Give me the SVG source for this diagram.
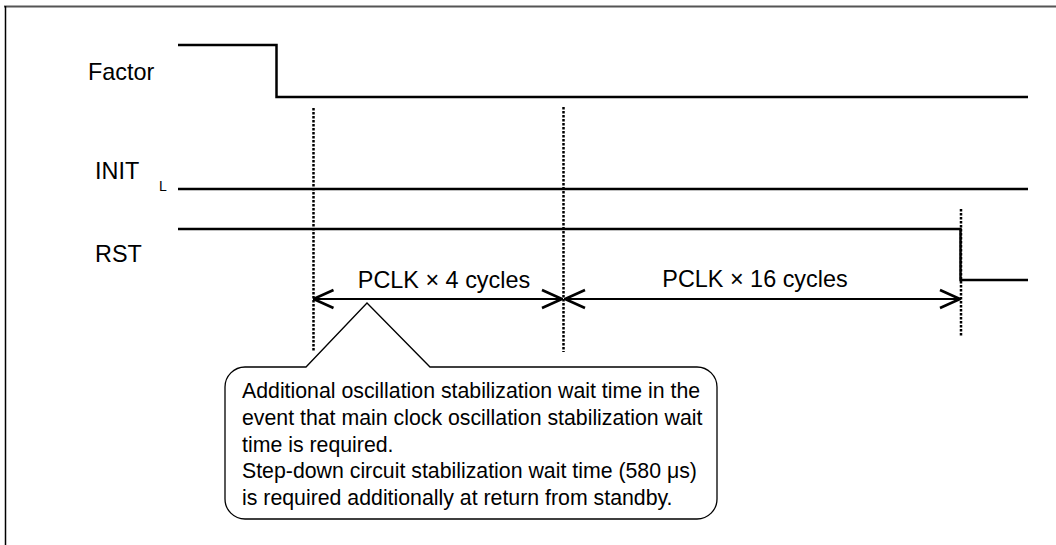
<svg xmlns="http://www.w3.org/2000/svg" width="1056" height="545" viewBox="0 0 1056 545">
<style>
.sig{fill:none;stroke:#000;stroke-width:2.5;stroke-linejoin:miter}
.dot{fill:none;stroke:#000;stroke-width:2.5;stroke-dasharray:2.5 1.5}
.lbl{font-family:"Liberation Sans",Arial,sans-serif;font-size:23.4px;fill:#000}
.sub{font-family:"Liberation Sans",Arial,sans-serif;font-size:14px;fill:#000}
.note{font-family:"Liberation Sans",Arial,sans-serif;font-size:21.3px;fill:#000}
.arr{fill:none;stroke:#000;stroke-width:2.2;marker-start:url(#chev);marker-end:url(#chev)}
</style>
<defs>
<marker id="chev" viewBox="0 0 22 22" refX="21" refY="11" markerWidth="22" markerHeight="22" markerUnits="userSpaceOnUse" orient="auto-start-reverse">
<path d="M1,2 L21,11 L1,20" fill="none" stroke="#000" stroke-width="2.6"/>
</marker>
</defs>
<rect width="1056" height="545" fill="#fff"/>
<g id="frame">
<line x1="4" y1="6.5" x2="1056" y2="6.5" stroke="#555" stroke-width="2"/>
<line x1="5.5" y1="6" x2="5.5" y2="545" stroke="#000" stroke-width="1.5"/>
</g>
<g id="factor">
<text class="lbl" x="88" y="80">Factor</text>
<path class="sig" d="M178,45 H276.5 V97 H1028"/>
</g>
<g id="init">
<text class="lbl" x="95" y="179">INIT</text>
<text class="sub" x="159" y="191">L</text>
<path class="sig" d="M178,189 H1028"/>
</g>
<g id="rst">
<text class="lbl" x="95" y="262">RST</text>
<path class="sig" d="M178,229 H960.5 V280 H1028"/>
</g>
<g id="guides">
<line class="dot" x1="313.5" y1="108" x2="313.5" y2="352"/>
<line class="dot" x1="563.5" y1="107" x2="563.5" y2="352"/>
<line class="dot" x1="961" y1="209" x2="961" y2="337"/>
</g>
<g id="connectors">
<line class="arr" x1="313.5" y1="299" x2="562" y2="299"/>
<line class="arr" x1="565" y1="299" x2="960" y2="299"/>
</g>
<g id="labels">
<text class="lbl" x="444" y="288" text-anchor="middle">PCLK × 4 cycles</text>
<text class="lbl" x="755" y="287" text-anchor="middle">PCLK × 16 cycles</text>
</g>
<g id="callout">
<path d="M245,367 L306,367 L367,303 L430,367 L697,367 A20,20 0 0 1 717,387 L717,499 A20,20 0 0 1 697,519 L245,519 A20,20 0 0 1 225,499 L225,387 A20,20 0 0 1 245,367 Z" fill="#fff" stroke="#000" stroke-width="1.3"/>
<text class="note" x="242" y="398">Additional oscillation stabilization wait time in the</text>
<text class="note" x="242" y="425">event that main clock oscillation stabilization wait</text>
<text class="note" x="242" y="451.5">time is required.</text>
<text class="note" x="242" y="478">Step-down circuit stabilization wait time (580 μs)</text>
<text class="note" x="242" y="505">is required additionally at return from standby.</text>
</g>
</svg>
